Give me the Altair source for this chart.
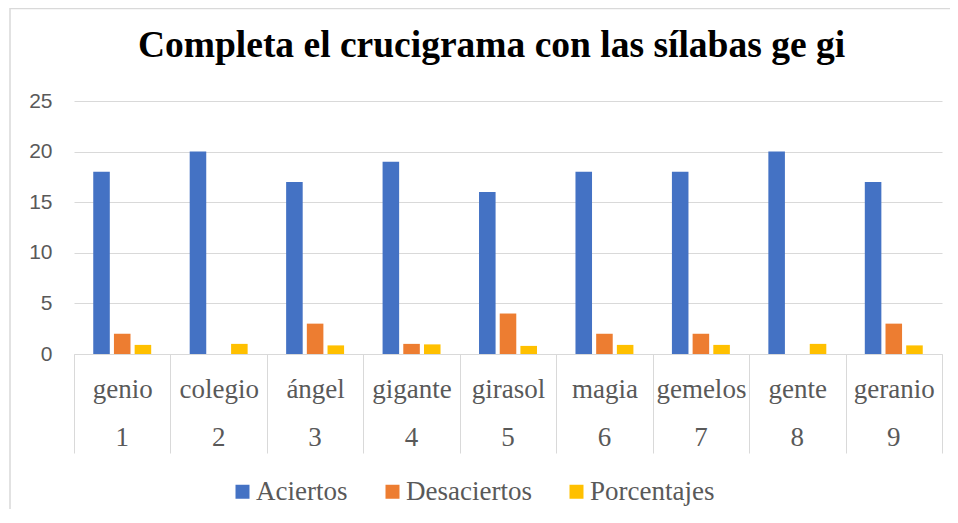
import altair as alt
import pandas as pd

words = ["genio", "colegio", "ángel", "gigante", "girasol", "magia", "gemelos", "gente", "geranio"]
numbers = ["1", "2", "3", "4", "5", "6", "7", "8", "9"]
aciertos = [18, 20, 17, 19, 16, 18, 18, 20, 17]
desaciertos = [2, 0, 3, 1, 4, 2, 2, 0, 3]
porcentajes = [0.9, 1.0, 0.85, 0.95, 0.8, 0.9, 0.9, 1.0, 0.85]
series = ["Aciertos", "Desaciertos", "Porcentajes"]
colors = ["#4472C4", "#ED7D31", "#FFC000"]
y_ticks = [0, 5, 10, 15, 20, 25]
title_text = "Completa el crucigrama con las sílabas ge gi"

rows = []
for s, vals in zip(series, [aciertos, desaciertos, porcentajes]):
    for w, n, v in zip(words, numbers, vals):
        rows.append({"word": w, "num": n, "series": s, "value": v})
df = pd.DataFrame(rows)
num_df = pd.DataFrame({"word": words, "num": numbers})
one = pd.DataFrame({"a": [0]})
title_df = pd.DataFrame({"t": [title_text]})

GRAY = "#595959"
LINE = "#d9d9d9"
SERIF = "Liberation Serif"

x_enc = alt.X(
    "word:N", sort=words,
    scale=alt.Scale(paddingInner=0, paddingOuter=0),
    axis=alt.Axis(
        title=None, labelAngle=0, labelFont=SERIF, labelFontSize=27,
        labelColor=GRAY, labelBaseline="middle", labelPadding=-64,
        labelOverlap=False, tickBand="extent", tickSize=99,
        tickColor=LINE, tickWidth=1, domainColor=LINE, domainWidth=1,
        grid=False,
    ),
)

bars = alt.Chart(df).mark_bar().encode(
    x=x_enc,
    xOffset=alt.XOffset(
        "series:N", sort=series,
        scale=alt.Scale(paddingInner=0.2, paddingOuter=0.93),
    ),
    y=alt.Y(
        "value:Q", stack=None, scale=alt.Scale(domain=[0, 25], nice=False),
        axis=alt.Axis(
            values=y_ticks, title=None, labelFont="Liberation Sans",
            labelFontSize=21, labelColor=GRAY, labelPadding=22,
            domain=False, ticks=False, grid=True, gridColor=LINE, gridWidth=1,
        ),
    ),
    color=alt.Color(
        "series:N", sort=series,
        scale=alt.Scale(domain=series, range=colors),
        legend=alt.Legend(
            title=None, orient="none", legendX=155, legendY=377,
            direction="horizontal", symbolType="square", symbolSize=196,
            symbolStrokeWidth=0, labelFont=SERIF, labelFontSize=27,
            labelColor=GRAY, labelOffset=0, columnPadding=31, padding=0,
        ),
    ),
)

nums = alt.Chart(num_df).mark_text(
    font=SERIF, fontSize=27, color=GRAY, baseline="middle"
).encode(
    x=alt.X("word:N", sort=words),
    y=alt.value(337),
    text="num:N",
)

title = alt.Chart(title_df).mark_text(
    font=SERIF, fontSize=37.5, fontWeight="bold", color="black",
    align="center", baseline="alphabetic",
).encode(x=alt.value(417.5), y=alt.value(-44), text="t:N")

left_border = alt.Chart(one).mark_rule(color=LINE, strokeWidth=1.5).encode(
    x=alt.value(-64), y=alt.value(-93), y2=alt.value(430)
)
top_border = alt.Chart(one).mark_rule(color=LINE, strokeWidth=1.5).encode(
    x=alt.value(-64), x2=alt.value(890), y=alt.value(-92.5)
)

chart = alt.layer(left_border, top_border, bars, nums, title).properties(
    width=868,
    height=253,
    padding={"left": 66, "top": 93, "right": 8, "bottom": 155},
    autosize=alt.AutoSizeParams(type="none"),
).configure_view(stroke=None)

chart.save("out.html", embed_options={"renderer": "svg", "actions": False})
